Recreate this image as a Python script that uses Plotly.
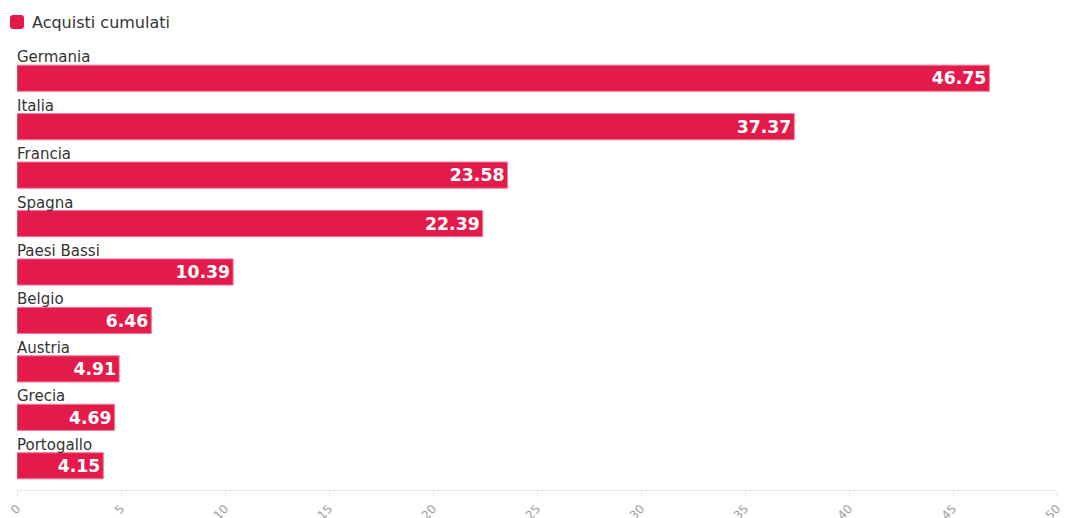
import plotly.graph_objects as go

categories = ["Germania", "Italia", "Francia", "Spagna", "Paesi Bassi", "Belgio", "Austria", "Grecia", "Portogallo"]
values = [46.75, 37.37, 23.58, 22.39, 10.39, 6.46, 4.91, 4.69, 4.15]
tick_vals = [0, 5, 10, 15, 20, 25, 30, 35, 40, 45, 50]
series_name = "Acquisti cumulati"

BAR = "#E31B4A"

fig = go.Figure()
fig.add_trace(go.Bar(
    x=values, y=categories, orientation="h", name=series_name,
    marker=dict(color=BAR, line=dict(color="#F27A96", width=1)),
    width=0.54,
    text=[f"{v:.2f}" for v in values],
    textposition="inside", insidetextanchor="end",
    textfont=dict(family="DejaVu Sans", size=18, color="white", weight="bold"),
    showlegend=False,
))

for c in categories:
    fig.add_annotation(x=0, y=c, xref="x", yref="y", text=c, showarrow=False,
                       xanchor="left", yanchor="middle", yshift=21, xshift=-2,
                       font=dict(family="DejaVu Sans", size=15, color="#333333"))

# legend (icon + label)
r = 3
h = 7
path = (f"M {-h+r},{-h} L {h-r},{-h} Q {h},{-h} {h},{-h+r} L {h},{h-r} Q {h},{h} {h-r},{h} "
        f"L {-h+r},{h} Q {-h},{h} {-h},{h-r} L {-h},{-h+r} Q {-h},{-h} {-h+r},{-h} Z")
fig.add_shape(type="path", xref="paper", yref="paper", xsizemode="pixel", ysizemode="pixel",
              xanchor=0.0, yanchor=(490 - 22) / 436, path=path,
              fillcolor=BAR, line=dict(color=BAR, width=0))
fig.add_annotation(x=(30 - 17) / 1040, y=(490 - 22) / 436, xref="paper", yref="paper",
                   text=series_name, showarrow=False, xanchor="left", yanchor="middle",
                   font=dict(family="DejaVu Sans", size=16, color="#333333"))

fig.update_layout(
    width=1065, height=518,
    margin=dict(l=17, r=8, t=54, b=28, autoexpand=False),
    plot_bgcolor="white", paper_bgcolor="white",
    showlegend=False,
    xaxis=dict(range=[0, 50], tickvals=tick_vals, ticktext=[str(t) for t in tick_vals],
               tickangle=-45, showgrid=False, zeroline=False,
               showline=True, linecolor="#E6E6E6", linewidth=1,
               ticks="outside", ticklen=6, tickcolor="#E6E6E6",
               tickfont=dict(family="DejaVu Sans", size=12, color="#A0A0A0"),
               automargin=False, fixedrange=True),
    yaxis=dict(type="category", categoryorder="array", categoryarray=categories,
               range=[8.5, -0.5], showticklabels=False, showgrid=False, zeroline=False,
               showline=False, ticks="", automargin=False),
)

fig.write_html("out.html")
